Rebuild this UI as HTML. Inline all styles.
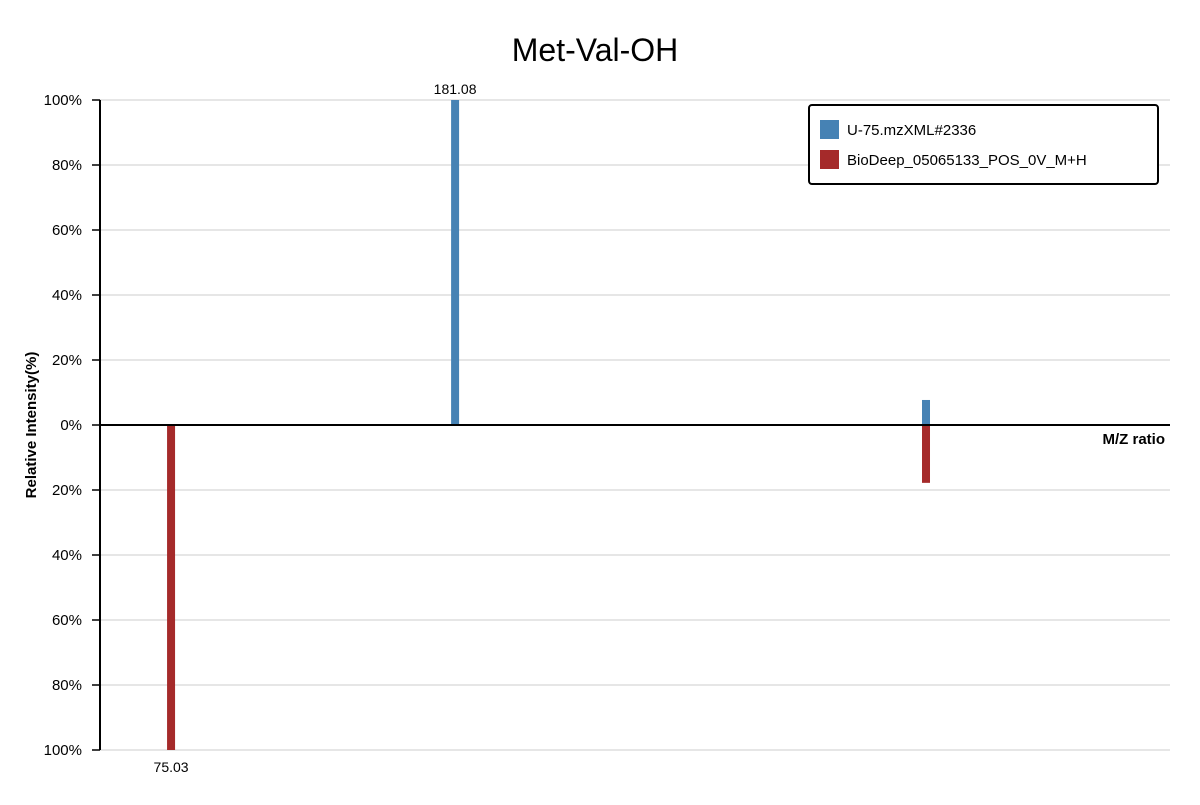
<!DOCTYPE html>
<html><head><meta charset="utf-8"><style>
body{margin:0;background:#fff;width:1200px;height:800px;overflow:hidden}
svg{font-family:"Segoe UI","Liberation Sans","DejaVu Sans",sans-serif}
</style></head><body>
<svg id="chart" width="1200" height="800" xmlns="http://www.w3.org/2000/svg">
<text x="595" y="61" text-anchor="middle" font-size="32" fill="#000">Met-Val-OH</text>
<g id="grid"></g>
<g id="bars"></g>
<g id="axes"></g>
<g>
<rect x="809" y="105" width="349" height="79" rx="3" fill="#fff" stroke="#000" stroke-width="2"/>
<rect x="820" y="120" width="19" height="19" fill="#4682b4"/>
<text x="847" y="135" font-size="15" fill="#000">U-75.mzXML#2336</text>
<rect x="820" y="150" width="19" height="19" fill="#a52a2a"/>
<text x="847" y="165" font-size="15" fill="#000">BioDeep_05065133_POS_0V_M+H</text>
</g>
<text transform="translate(36,425) rotate(-90)" text-anchor="middle" font-size="15" font-weight="bold">Relative Intensity(%)</text>
<text x="1165" y="444" text-anchor="end" font-size="15" font-weight="bold">M/Z ratio</text>
</svg>
<script>
const queryMz = [181.08, 356.9];
const queryIntensity = [100, 7.7];
const queryLabels = ["181.08", ""];
const refMz = [75.03, 356.9];
const refIntensity = [100, 17.8];
const refLabels = ["75.03", ""];
const yTicks = [100, 80, 60, 40, 20, 0, -20, -40, -60, -80, -100];

const NS = "http://www.w3.org/2000/svg";
const x = v => 100 + (v - 48.5) / (448 - 48.5) * 1070;
const y = v => 425 - v * 3.25;
function mk(tag, attrs, parent, text) {
  const e = document.createElementNS(NS, tag);
  for (const k in attrs) e.setAttribute(k, attrs[k]);
  if (text !== undefined) e.textContent = text;
  document.getElementById(parent).appendChild(e);
  return e;
}
yTicks.forEach(t => {
  const g = mk("line", {x1: 100, x2: 1170, y1: y(t), y2: y(t), stroke: "#ddd", "stroke-width": 1.5}, "grid");
  
  
  const tk = mk("line", {x1: 92, x2: 100, y1: y(t), y2: y(t), stroke: "#000", "stroke-width": 1.5}, "axes");
  
  
  const lb = mk("text", {x: 82, y: y(t) + 5, "text-anchor": "end", "font-size": 15}, "axes", Math.abs(t) + "%");
  
  
});
const ya = mk("line", {x1: 100, x2: 100, y1: 100, y2: 750, stroke: "#000", "stroke-width": 2}, "axes");


const xa = mk("line", {x1: 100, x2: 1170, y1: 425, y2: 425, stroke: "#000", "stroke-width": 2}, "axes");


queryMz.forEach((m, i) => {
  const b = mk("rect", {x: x(m) - 4, y: y(queryIntensity[i]), width: 8, height: y(0) - y(queryIntensity[i]), fill: "#4682b4"}, "bars");
  
  
  if (queryLabels[i]) {
    const t = mk("text", {x: x(m), y: y(queryIntensity[i]) - 6, "text-anchor": "middle", "font-size": 14}, "bars", queryLabels[i]);
    
    
  }
});
refMz.forEach((m, i) => {
  const b = mk("rect", {x: x(m) - 4, y: y(0), width: 8, height: y(-refIntensity[i]) - y(0), fill: "#a52a2a"}, "bars");
  
  
  if (refLabels[i]) {
    const t = mk("text", {x: x(m), y: y(-refIntensity[i]) + 22, "text-anchor": "middle", "font-size": 14}, "bars", refLabels[i]);
    
    
  }
});
</script>
</body></html>
